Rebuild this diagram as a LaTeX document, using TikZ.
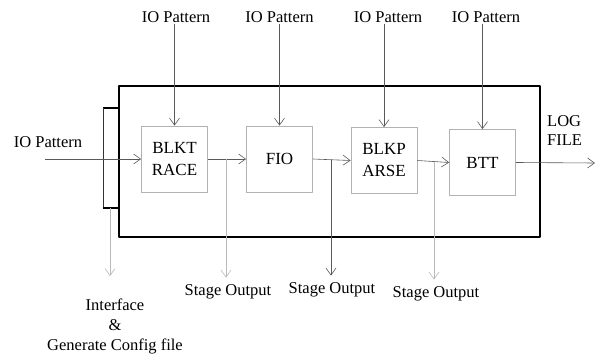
\documentclass[tikz,border=0pt]{standalone}
\usepackage{fontspec}
\setmainfont{Liberation Serif}
\usetikzlibrary{arrows.meta,positioning}

\begin{document}
\begin{tikzpicture}[x=1pt, y=-1pt, line join=round,
    stage/.style={draw=gray!60, line width=0.8pt, minimum width=66pt, minimum height=66pt,
                  align=center, font=\fontsize{17}{22}\selectfont},
    flow/.style={draw=gray!70!black, line width=0.6pt, -{Straight Barb[length=7pt,width=10pt]}},
    lbl/.style={font=\fontsize{16.5}{20}\selectfont, inner sep=1pt}]
    \useasboundingbox (0,0) rectangle (595,362);
    % outer frame and interface bar
    \draw[line width=1.6pt] (119,86) rectangle (540,237);
    \draw[line width=1.6pt] (119,108) -- (103,108);
    \draw[gray!40!black, line width=1pt] (103,108) -- (103,208);
    \draw[line width=1.6pt] (103,208) -- (119,208);
    % stages
    \node[stage] (blk) at (174.5,159) {BLKT\\RACE};
    \node[stage] (fio) at (279.5,159) {FIO};
    \node[stage] (prs) at (384,160.5) {BLKP\\ARSE};
    \node[stage] (btt) at (482.5,162.5) {BTT};
    % io patterns
    \node[lbl] (p1) at (176,17) {IO Pattern};
    \node[lbl] (p2) at (279.5,17) {IO Pattern};
    \node[lbl] (p3) at (388,17) {IO Pattern};
    \node[lbl] (p4) at (486,17) {IO Pattern};
    \node[lbl] (pin) at (48,142) {IO Pattern};
    \coordinate (in) at (45,159);
    \draw[flow] (p1.south -| blk.north) -- (blk.north);
    \draw[flow] (p2.south) -- (fio.north);
    \draw[flow] (p3.south -| prs.north) -- (prs.north);
    \draw[flow] (p4.south -| btt.north) -- (btt.north);
    \draw[flow] (in) -- (blk.west);
    % chain
    \draw[flow] (blk.east) -- (fio.west);
    \draw[flow] (fio.east) -- (prs.west);
    \draw[flow] (prs.east) -- (btt.west);
    \coordinate (log) at (595,163);
    \draw[flow] (btt.east) -- (log);
    \node[lbl, align=left, anchor=west] (logf) at (546,131) {LOG\\[-1pt]FILE};
    % stage outputs
    \coordinate (s1) at (226,159);
    \coordinate (s2) at (331,160);
    \coordinate (s3) at (434,162);
    \node[lbl] (o1) at (228,292) {Stage Output};
    \node[lbl] (o2) at (332,290) {Stage Output};
    \node[lbl] (o3) at (436,294) {Stage Output};
    \draw[flow, draw=gray!55] (s1) -- ([yshift=6pt]s1 |- o1.north);
    \draw[flow] (s2) -- ([yshift=6pt]s2 |- o2.north);
    \draw[flow, draw=gray!55] (s3) -- ([yshift=6pt]s3 |- o3.north);
    % interface
    \coordinate (itf) at (110,208);
    \node[lbl, align=center, anchor=north] (cfg) at (115,298) {Interface\\\&\\Generate Config file};
    \draw[flow, draw=gray!55] (itf) -- ([yshift=22pt]itf |- cfg.north);
\end{tikzpicture}
\end{document}
